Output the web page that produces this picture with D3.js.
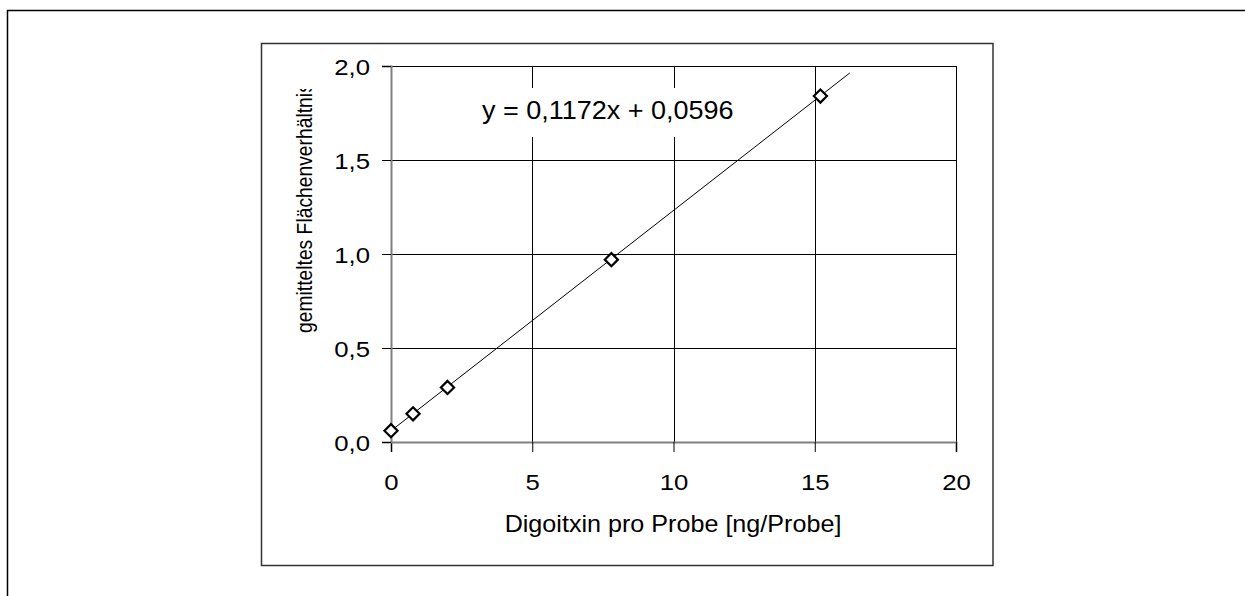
<!DOCTYPE html>
<html><head><meta charset="utf-8">
<script src="https://cdn.jsdelivr.net/npm/d3@7"></script>
<style>
html,body{margin:0;padding:0;background:#fff;overflow:hidden;}
svg{display:block;}
text{font-family:"Liberation Sans",Arial,sans-serif;fill:#000;}
</style></head>
<body>
<script>
// Data
const xValues = [0, 0.78, 2.0, 7.8, 15.2];
const yValues = [0.06, 0.15, 0.29, 0.97, 1.84];
const slope = 0.1172;
const intercept = 0.0596;
const trendRange = [0, 16.24];
const xTicks = [0, 5, 10, 15, 20];
const yTicks = [0, 0.5, 1.0, 1.5, 2.0];
const xTitle = "Digoitxin pro Probe [ng/Probe]";
const yTitle = "gemitteltes Flächenverhältnis";
const equation = "y = 0,1172x + 0,0596";

const W = 1245, H = 596;
const FONT = '"Liberation Sans",Arial,sans-serif';
const SX = 1.12; // horizontal stretch of the original text
const svg = d3.select("body").append("svg").attr("width", W).attr("height", H);

// outer frame (extends past the viewport)
svg.append("rect").attr("x", 7.5).attr("y", 10.5).attr("width", 1300).attr("height", 700)
  .attr("fill", "none").attr("stroke", "#000").attr("stroke-width", 1.5);
// inner chart box
svg.append("rect").attr("x", 261.5).attr("y", 43.5).attr("width", 731.5).attr("height", 522)
  .attr("fill", "#fff").attr("stroke", "#333").attr("stroke-width", 1.5);

const x = d3.scaleLinear().domain([0, 20]).range([391, 956]);
const y = d3.scaleLinear().domain([0, 2]).range([442, 66]);
const fmt = d => d3.format(".1f")(d).replace(".", ",");

// gridlines
svg.append("g").selectAll("line").data(yTicks.filter(d => d > 0)).join("line")
  .attr("x1", x(0)).attr("x2", x(20)).attr("y1", d => Math.round(y(d)) + 0.5).attr("y2", d => Math.round(y(d)) + 0.5)
  .attr("stroke", "#000").attr("stroke-width", 1);
svg.append("g").selectAll("line").data(xTicks.filter(d => d > 0)).join("line")
  .attr("y1", y(0)).attr("y2", y(2)).attr("x1", d => Math.round(x(d)) + 0.5).attr("x2", d => Math.round(x(d)) + 0.5)
  .attr("stroke", "#000").attr("stroke-width", 1);

// axes
const xAxis = d3.axisBottom(x).tickValues(xTicks).tickSize(10).tickFormat(d3.format("d"));
const gx = svg.append("g").attr("transform", `translate(0,${y(0)})`).call(xAxis);
gx.attr("font-size", null).attr("font-family", null);
gx.select(".domain").attr("stroke", "#808080").attr("stroke-width", 2);
gx.selectAll(".tick line").attr("stroke", "#000");
gx.selectAll(".tick text").attr("dy", null).attr("y", 48)
  .style("font-size", "23px").style("font-family", FONT)
  .attr("transform", `scale(${SX},1)`);

const yAxis = d3.axisLeft(y).tickValues(yTicks).tickSize(9).tickFormat(fmt);
const gy = svg.append("g").attr("transform", `translate(${x(0)},0)`).call(yAxis);
gy.attr("font-size", null).attr("font-family", null);
gy.select(".domain").attr("stroke", "#808080").attr("stroke-width", 2);
gy.selectAll(".tick line").attr("stroke", "#000");
gy.selectAll(".tick text").attr("x", -21 / SX).attr("dy", "0.36em")
  .style("font-size", "23px").style("font-family", FONT)
  .attr("transform", `scale(${SX},1)`);

// trendline
svg.append("line")
  .attr("x1", x(trendRange[0])).attr("y1", y(slope * trendRange[0] + intercept))
  .attr("x2", x(trendRange[1])).attr("y2", y(slope * trendRange[1] + intercept))
  .attr("stroke", "#000").attr("stroke-width", 1);

// markers
const pts = xValues.map((v, i) => [v, yValues[i]]);
svg.append("g").selectAll("path").data(pts).join("path")
  .attr("d", d3.symbol(d3.symbolDiamond2, 110))
  .attr("transform", d => `translate(${x(d[0])},${y(d[1])})`)
  .attr("fill", "#fff").attr("stroke", "#000").attr("stroke-width", 2.2);

// equation label with white background (gridlines interrupted behind it)
svg.append("rect").attr("x", 476).attr("y", 88).attr("width", 264).attr("height", 49).attr("fill", "#fff");
svg.append("text").attr("transform", "translate(482,119) scale(1.08,1)")
  .style("font-size", "25px").text(equation);

// x title
svg.append("text").attr("transform", "translate(673,532) scale(1.07,1)")
  .attr("text-anchor", "middle").style("font-size", "23.5px").text(xTitle);

// y title (clipped at top)
svg.append("clipPath").attr("id", "yclip").append("rect")
  .attr("x", 270).attr("y", 89).attr("width", 80).attr("height", 400);
svg.append("g").attr("clip-path", "url(#yclip)")
  .append("text").attr("transform", "translate(312,333) scale(1.18,1) rotate(-90)")
  .style("font-size", "19.3px").text(yTitle);
</script>
</body></html>
